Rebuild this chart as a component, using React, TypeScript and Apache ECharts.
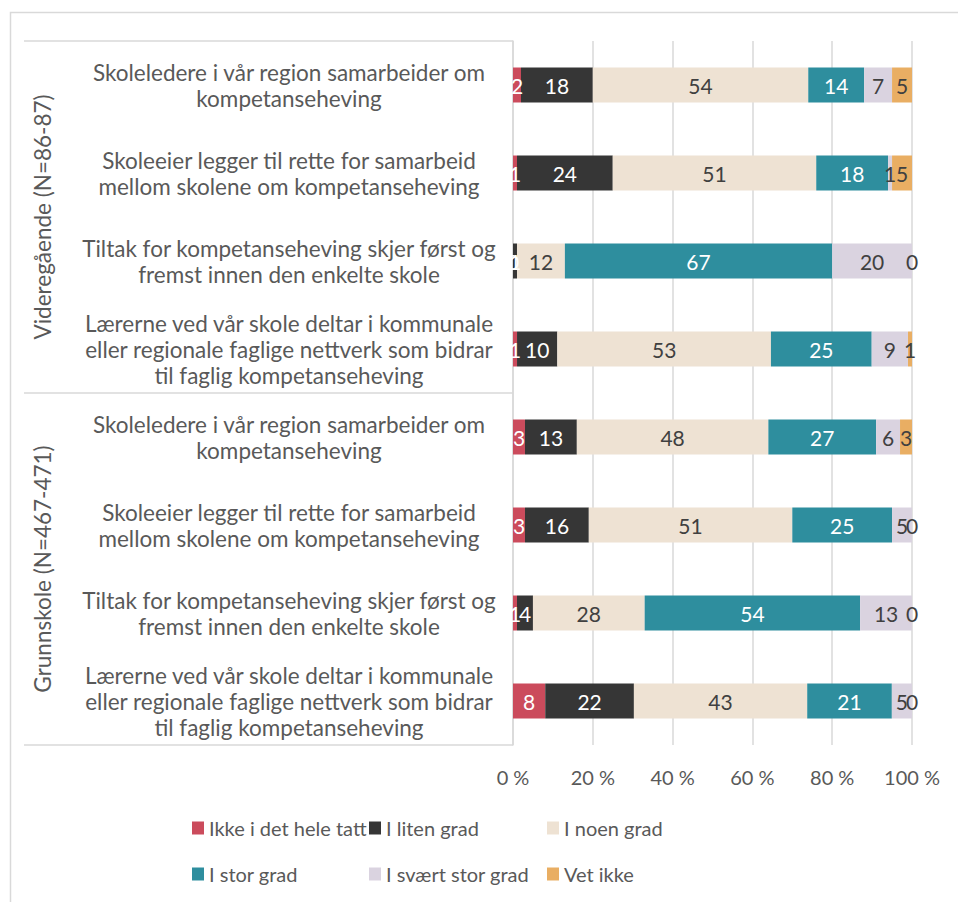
import React, { useEffect, useRef } from "react";
import * as echarts from "echarts";

const categories = [
  "Skoleledere i vår region samarbeider om\nkompetanseheving",
  "Skoleeier legger til rette for samarbeid\nmellom skolene om kompetanseheving",
  "Tiltak for kompetanseheving skjer først og\nfremst innen den enkelte skole",
  "Lærerne ved vår skole deltar i kommunale\neller regionale faglige nettverk som bidrar\ntil faglig kompetanseheving",
  "Skoleledere i vår region samarbeider om\nkompetanseheving",
  "Skoleeier legger til rette for samarbeid\nmellom skolene om kompetanseheving",
  "Tiltak for kompetanseheving skjer først og\nfremst innen den enkelte skole",
  "Lærerne ved vår skole deltar i kommunale\neller regionale faglige nettverk som bidrar\ntil faglig kompetanseheving",
];

const groupLabels = ["Videregående (N=86-87)", "Grunnskole (N=467-471)"];

const seriesNames = [
  "Ikke i det hele tatt",
  "I liten grad",
  "I noen grad",
  "I stor grad",
  "I svært stor grad",
  "Vet ikke",
];

const ikkeIDetHeleTatt = [2, 1, 0, 1, 3, 3, 1, 8];
const iLitenGrad = [18, 24, 1, 10, 13, 16, 4, 22];
const iNoenGrad = [54, 51, 12, 53, 48, 51, 28, 43];
const iStorGrad = [14, 18, 67, 25, 27, 25, 54, 21];
const iSvaertStorGrad = [7, 1, 20, 9, 6, 5, 13, 5];
const vetIkke = [5, 5, 0, 1, 3, 0, 0, 0];

const xTicks = [0, 20, 40, 60, 80, 100];

const colors = ["#CB4B5C", "#363636", "#EEE2D3", "#2E8E9E", "#DAD3E0", "#E9AE63"];
const labelColors = ["#ffffff", "#ffffff", "#404040", "#ffffff", "#404040", "#404040"];

const FONT = "Lato, 'Noto Sans', sans-serif";
const TEXT = "#595959";
const GRID_LINE = "#d9d9d9";

export default function App() {
  const ref = useRef<HTMLDivElement>(null);

  useEffect(() => {
    if (!ref.current) return;
    const chart = echarts.init(ref.current, undefined, { renderer: "svg" });
    const all = [ikkeIDetHeleTatt, iLitenGrad, iNoenGrad, iStorGrad, iSvaertStorGrad, vetIkke];
    const totals = categories.map((_, i) => all.reduce((s, arr) => s + arr[i], 0));

    const gridTop = 41;
    const gridHeight = 704;
    const gridLeft = 513;
    const gridRight = 46;

    const series = all.map((arr, si) => ({
      name: seriesNames[si],
      type: "bar",
      stack: "total",
      barWidth: 35,
      itemStyle: { color: colors[si] },
      label: {
        show: true,
        position: "inside",
        color: labelColors[si],
        fontSize: 21,
        fontFamily: FONT,
        formatter: (p: any) => String(arr[p.dataIndex]),
      },
      data: arr.map((v, i) => (v / totals[i]) * 100),
    }));

    const legendPos = [
      { left: 192, top: 818 },
      { left: 369, top: 818 },
      { left: 547, top: 818 },
      { left: 192, top: 864 },
      { left: 369, top: 864 },
      { left: 547, top: 864 },
    ];
    const legends = seriesNames.map((n, i) => ({
      data: [n],
      left: legendPos[i].left,
      top: legendPos[i].top,
      padding: 0,
      itemWidth: 12,
      itemHeight: 13,
      icon: "rect",
      selectedMode: false,
      textStyle: { fontSize: 20, color: TEXT, fontFamily: FONT },
    }));

    const half = gridHeight / 2;
    chart.setOption({
      animation: false,
      backgroundColor: "#ffffff",
      textStyle: { fontFamily: FONT },
      grid: { left: gridLeft, right: gridRight, top: gridTop, height: gridHeight, containLabel: false },
      legend: legends,
      xAxis: {
        type: "value",
        min: 0,
        max: 100,
        interval: 20,
        axisLine: { show: false },
        axisTick: { show: false },
        splitLine: { show: true, lineStyle: { color: GRID_LINE, width: 1.5 } },
        axisLabel: {
          fontSize: 20,
          color: TEXT,
          fontFamily: FONT,
          margin: 22,
          formatter: (v: number) => (xTicks.includes(v) ? `${v} %` : ""),
        },
      },
      yAxis: {
        type: "category",
        inverse: true,
        data: categories,
        axisTick: { show: false },
        axisLine: { show: true, lineStyle: { color: GRID_LINE, width: 1.5 } },
        axisLabel: {
          fontSize: 22.5,
          lineHeight: 26,
          color: TEXT,
          fontFamily: FONT,
          align: "center",
          margin: 224,
          interval: 0,
        },
      },
      graphic: [
        {
          type: "rect",
          z: -10,
          silent: true,
          shape: { x: 10.5, y: 12.5, width: 980, height: 920 },
          style: { fill: "none", stroke: GRID_LINE, lineWidth: 1.5 },
        },
        ...[0, 1, 2].map((k) => ({
          type: "line",
          silent: true,
          shape: { x1: 24, y1: gridTop + k * half, x2: gridLeft, y2: gridTop + k * half },
          style: { stroke: GRID_LINE, lineWidth: 1.5 },
        })),
        ...groupLabels.map((t, k) => ({
          type: "text",
          silent: true,
          x: 42,
          y: gridTop + half * k + half / 2,
          rotation: Math.PI / 2,
          style: {
            text: t,
            fontSize: 22.5,
            fill: TEXT,
            fontFamily: FONT,
            align: "center",
            verticalAlign: "middle",
          },
        })),
      ],
      series,
    });
    return () => chart.dispose();
  }, []);

  return (
    <div
      ref={ref}
      style={{ position: "fixed", left: 0, top: 0, width: 958, height: 902 }}
    />
  );
}
